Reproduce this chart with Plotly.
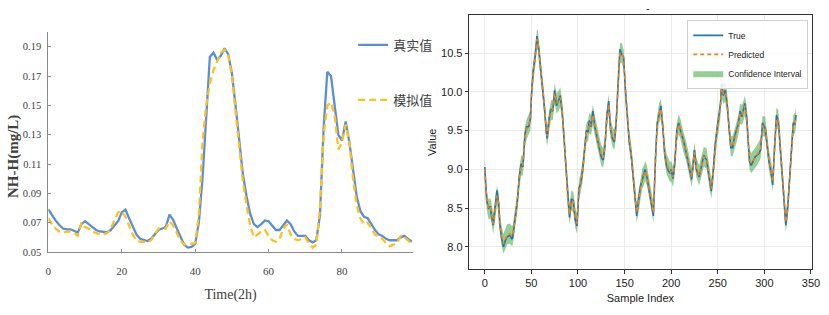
import plotly.graph_objects as go

# ---------------- Left chart data ----------------
time_idx = list(range(100))
true_left = [0.079, 0.075, 0.0714, 0.0684, 0.066, 0.0655, 0.0655, 0.0645, 0.0632, 0.069,
             0.071, 0.069, 0.067, 0.065, 0.064, 0.0635, 0.0635, 0.065, 0.068, 0.071,
             0.077, 0.079, 0.073, 0.067, 0.062, 0.059, 0.058, 0.0575, 0.059, 0.062,
             0.065, 0.066, 0.067, 0.0755, 0.072, 0.066, 0.060, 0.055, 0.053, 0.0535,
             0.0555, 0.070, 0.100, 0.140, 0.183, 0.186, 0.181, 0.184, 0.189, 0.185,
             0.172, 0.150, 0.125, 0.103, 0.088, 0.076, 0.069, 0.067, 0.069, 0.0715,
             0.071, 0.068, 0.065, 0.065, 0.068, 0.0715, 0.069, 0.064, 0.061, 0.061,
             0.061, 0.058, 0.0565, 0.058, 0.075, 0.135, 0.173, 0.170, 0.150, 0.130,
             0.126, 0.139, 0.125, 0.105, 0.088, 0.078, 0.074, 0.073, 0.069, 0.065,
             0.062, 0.061, 0.059, 0.058, 0.058, 0.058, 0.060, 0.061, 0.059, 0.057]
sim_left = [0.073, 0.069, 0.066, 0.064, 0.0635, 0.064, 0.064, 0.063, 0.061, 0.070,
            0.067, 0.066, 0.064, 0.063, 0.062, 0.062, 0.063, 0.066, 0.072, 0.077,
            0.078, 0.074, 0.068, 0.062, 0.058, 0.057, 0.057, 0.0565, 0.058, 0.062,
            0.066, 0.066, 0.066, 0.071, 0.068, 0.063, 0.058, 0.055, 0.0555, 0.056,
            0.056, 0.075, 0.125, 0.150, 0.165, 0.174, 0.180, 0.186, 0.188, 0.185,
            0.170, 0.145, 0.118, 0.098, 0.082, 0.068, 0.060, 0.062, 0.064, 0.065,
            0.061, 0.058, 0.057, 0.059, 0.066, 0.069, 0.062, 0.059, 0.058, 0.059,
            0.060, 0.056, 0.053, 0.055, 0.080, 0.130, 0.150, 0.152, 0.143, 0.120,
            0.125, 0.137, 0.125, 0.100, 0.082, 0.073, 0.069, 0.070, 0.066, 0.062,
            0.060, 0.059, 0.056, 0.054, 0.055, 0.056, 0.061, 0.060, 0.058, 0.055]
left_xticks = [0, 20, 40, 60, 80]
left_yticks = [0.05, 0.07, 0.09, 0.11, 0.13, 0.15, 0.17, 0.19]

# ---------------- Right chart data ----------------
sample_idx = [0, 2, 4, 6, 7, 9, 11, 13, 15, 16, 18, 20, 22, 24, 27, 29, 30, 32, 35, 37,
              39, 41, 43, 45, 47, 49, 50, 52, 54, 56, 57, 58, 60, 62, 64, 66, 67, 69, 71, 73,
              75, 77, 79, 81, 83, 85, 87, 89, 91, 93, 95, 97, 99, 101, 103, 105, 107, 109, 111, 112,
              114, 116, 118, 121, 123, 125, 127, 129, 131, 133, 135, 137, 139, 141, 143, 145, 147, 149, 151, 153,
              155, 157, 159, 161, 163, 165, 167, 169, 171, 172, 174, 177, 179, 181, 183, 185, 187, 189, 191, 193,
              195, 197, 199, 200, 202, 204, 206, 208, 210, 213, 216, 219, 222, 225, 227, 230, 233, 235, 238, 241,
              243, 245, 247, 249, 251, 253, 254, 256, 258, 260, 262, 264, 266, 268, 270, 272, 274, 276, 278, 279,
              281, 283, 284, 286, 288, 290, 292, 294, 296, 298, 301, 303, 305, 307, 309, 311, 313, 315, 317, 319,
              321, 323, 325, 327, 329, 331, 333, 334]
true_vals = [9.03, 8.60, 8.50, 8.52, 8.42, 8.28, 8.50, 8.73, 8.55, 8.30, 8.12, 8.00, 8.08, 8.13, 8.15, 8.10, 8.12, 8.30, 8.60, 8.90,
             9.07, 9.03, 9.45, 9.55, 9.55, 9.65, 9.95, 10.28, 10.45, 10.72, 10.65, 10.55, 10.28, 10.06, 9.80, 9.48, 9.40, 9.65, 9.78, 9.75,
             10.02, 9.82, 9.90, 9.95, 9.75, 9.40, 9.03, 8.60, 8.38, 8.62, 8.60, 8.35, 8.27, 8.75, 8.82, 8.99, 9.25, 9.50, 9.48, 9.63,
             9.55, 9.75, 9.55, 9.38, 9.25, 9.16, 9.12, 9.30, 9.70, 9.88, 9.50, 9.40, 9.35, 9.60, 10.10, 10.55, 10.48, 10.45, 10.00, 9.65,
             9.35, 9.20, 8.95, 8.60, 8.40, 8.60, 8.78, 8.86, 8.95, 9.00, 8.90, 8.70, 8.52, 8.40, 9.10, 9.60, 9.70, 9.82, 9.55, 9.20,
             9.05, 8.98, 8.95, 9.00, 8.88, 9.10, 9.50, 9.60, 9.50, 9.38, 9.22, 9.05, 8.87, 9.25, 9.00, 8.90, 9.07, 9.18, 9.12, 8.85,
             8.72, 8.95, 9.30, 9.50, 9.65, 9.85, 10.10, 9.95, 10.02, 9.85, 9.55, 9.28, 9.28, 9.42, 9.50, 9.58, 9.75, 9.68, 9.80, 9.85,
             9.68, 9.30, 9.10, 9.05, 9.12, 9.16, 9.18, 9.20, 9.25, 9.60, 9.52, 9.30, 9.10, 8.98, 8.80, 9.30, 9.70, 9.62, 9.25, 8.95,
             8.60, 8.28, 8.50, 8.90, 9.30, 9.60, 9.58, 9.70]
pred_vals = [9.00, 8.62, 8.48, 8.50, 8.45, 8.30, 8.46, 8.66, 8.56, 8.33, 8.15, 8.04, 8.10, 8.16, 8.17, 8.14, 8.15, 8.30, 8.58, 8.88,
             9.05, 9.05, 9.42, 9.52, 9.57, 9.63, 9.92, 10.25, 10.43, 10.68, 10.66, 10.55, 10.30, 10.08, 9.82, 9.50, 9.43, 9.62, 9.76, 9.77,
             9.98, 9.85, 9.88, 9.93, 9.76, 9.42, 9.05, 8.63, 8.42, 8.60, 8.58, 8.38, 8.30, 8.72, 8.84, 8.97, 9.23, 9.47, 9.50, 9.60,
             9.57, 9.70, 9.57, 9.40, 9.27, 9.18, 9.15, 9.30, 9.66, 9.84, 9.53, 9.42, 9.38, 9.58, 10.05, 10.50, 10.50, 10.42, 10.02, 9.68,
             9.38, 9.22, 8.97, 8.63, 8.44, 8.58, 8.76, 8.88, 8.93, 8.98, 8.92, 8.72, 8.55, 8.44, 9.05, 9.56, 9.72, 9.78, 9.57, 9.23,
             9.07, 9.00, 8.96, 8.98, 8.90, 9.08, 9.46, 9.58, 9.52, 9.36, 9.24, 9.07, 8.90, 9.22, 9.03, 8.92, 9.05, 9.16, 9.14, 8.88,
             8.75, 8.93, 9.27, 9.48, 9.62, 9.82, 10.05, 9.98, 10.00, 9.88, 9.57, 9.30, 9.30, 9.40, 9.50, 9.56, 9.72, 9.70, 9.77, 9.82,
             9.70, 9.33, 9.13, 9.08, 9.12, 9.15, 9.18, 9.22, 9.27, 9.56, 9.55, 9.33, 9.12, 9.00, 8.84, 9.26, 9.66, 9.64, 9.28, 8.98,
             8.63, 8.32, 8.48, 8.88, 9.27, 9.57, 9.60, 9.68]
ci_half_width = 0.13
right_xticks = [0, 50, 100, 150, 200, 250, 300, 350]
right_yticks = [8.0, 8.5, 9.0, 9.5, 10.0, 10.5]

upper = [p + ci_half_width for p in pred_vals]
lower = [p - ci_half_width for p in pred_vals]

fig = go.Figure()

# Left chart traces
fig.add_trace(go.Scatter(x=time_idx, y=true_left, mode="lines", name="真实值",
                         line=dict(color="#5B8ED8", width=2.3), xaxis="x", yaxis="y",
                         legend="legend", legendgroup="a"))
fig.add_trace(go.Scatter(x=time_idx, y=sim_left, mode="lines", name="模拟值",
                         line=dict(color="#FFC21A", width=2.3, dash="7px,4px"), xaxis="x", yaxis="y",
                         legend="legend", legendgroup="b"))

# Right chart traces
fig.add_trace(go.Scatter(x=sample_idx, y=upper, mode="lines", line=dict(width=0, color="rgba(44,160,44,0.5)"),
                         showlegend=False, hoverinfo="skip", xaxis="x2", yaxis="y2", legend="legend2"))
fig.add_trace(go.Scatter(x=sample_idx, y=lower, mode="lines", fill="tonexty",
                         fillcolor="rgba(44,160,44,0.5)", line=dict(width=0, color="rgba(44,160,44,0.5)"),
                         name="Confidence Interval", xaxis="x2", yaxis="y2", legend="legend2", legendrank=3))
fig.add_trace(go.Scatter(x=sample_idx, y=true_vals, mode="lines", name="True",
                         line=dict(color="#1f77b4", width=1.6), xaxis="x2", yaxis="y2",
                         legend="legend2", legendrank=1))
fig.add_trace(go.Scatter(x=sample_idx, y=pred_vals, mode="lines", name="Predicted",
                         line=dict(color="#ff7f0e", width=1.6, dash="4px,3px"), xaxis="x2", yaxis="y2",
                         legend="legend2", legendrank=2))

serif = "Liberation Serif"
sans = "Liberation Sans"

fig.update_layout(
    width=829, height=315,
    margin=dict(l=0, r=0, t=0, b=0, autoexpand=False),
    paper_bgcolor="white", plot_bgcolor="white",
    xaxis=dict(domain=[0.0583, 0.498], range=[0, 99.3], tickvals=left_xticks,
               showgrid=False, zeroline=False, showline=True, linecolor="#8a8a8a", linewidth=1,
               ticks="inside", ticklen=3, tickcolor="#8a8a8a", ticklabelstandoff=9,
               tickfont=dict(family=serif, size=11, color="#404040"),
               title=dict(text="Time(2h)", font=dict(family=serif, size=14, color="#404040"), standoff=12),
               anchor="y"),
    yaxis=dict(domain=[0.2, 0.898], range=[0.05, 0.20], tickvals=left_yticks, tickformat=".2f",
               showgrid=False, zeroline=False, showline=True, linecolor="#8a8a8a", linewidth=1,
               ticks="inside", ticklen=3, tickcolor="#8a8a8a", ticklabelstandoff=4,
               tickfont=dict(family=serif, size=10.5, color="#404040"),
               anchor="x"),
    xaxis2=dict(domain=[0.566, 0.979], range=[-16.7, 350.7], tickvals=right_xticks,
                showgrid=True, gridcolor="#ebebeb", gridwidth=1, zeroline=False,
                showline=True, linecolor="#333333", linewidth=1, mirror=True,
                ticks="outside", ticklen=3.5, tickcolor="#333333",
                tickfont=dict(family=sans, size=11, color="#222222"),
                title=dict(text="Sample Index", font=dict(family=sans, size=11, color="#222222"), standoff=6),
                anchor="y2"),
    yaxis2=dict(domain=[0.145, 0.952], range=[7.71, 10.99], tickvals=right_yticks, tickformat=".1f",
                showgrid=True, gridcolor="#ebebeb", gridwidth=1, zeroline=False,
                showline=True, linecolor="#333333", linewidth=1, mirror=True,
                ticks="outside", ticklen=3.5, tickcolor="#333333",
                tickfont=dict(family=sans, size=11, color="#222222"),
                title=dict(text="Value", font=dict(family=sans, size=11, color="#222222"), standoff=2),
                anchor="x2"),
    legend=dict(x=0.426, y=0.905, xanchor="left", yanchor="top", bgcolor="rgba(0,0,0,0)",
                font=dict(family="Noto Sans CJK SC", size=13, color="#404040"),
                tracegroupgap=35, itemwidth=30, traceorder="grouped"),
    legend2=dict(x=0.975, y=0.937, xanchor="right", yanchor="top",
                 bgcolor="rgba(255,255,255,0.85)", bordercolor="#d0d0d0", borderwidth=1,
                 font=dict(family=sans, size=8.5, color="#222222"), itemwidth=30,
                 tracegroupgap=0, traceorder="normal"),
    annotations=[
        dict(text="-", x=0.782, y=1.0, xref="paper", yref="paper",
             xanchor="center", yanchor="top", showarrow=False,
             font=dict(family=sans, size=11, color="#222222")),
        dict(text="<b>NH-H(mg/L)</b>", x=13 / 829, y=1 - 157 / 315, xref="paper", yref="paper",
             xanchor="center", yanchor="middle", textangle=-90, showarrow=False,
             font=dict(family=serif, size=15, color="#404040")),
    ],
    showlegend=True,
)

fig.write_html("out.html")
